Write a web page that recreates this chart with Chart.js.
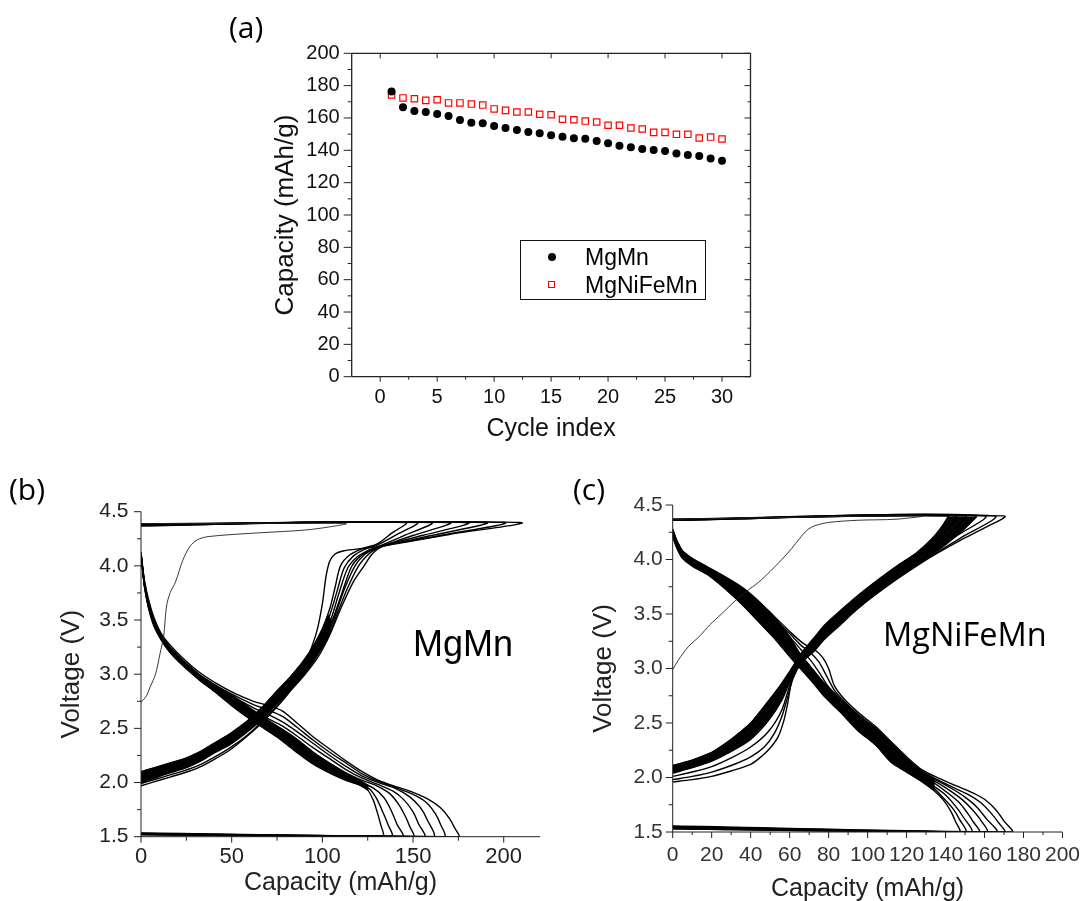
<!DOCTYPE html>
<html><head><meta charset="utf-8">
<script src="https://cdn.jsdelivr.net/npm/chart.js@4.4.1/dist/chart.umd.min.js"></script>
<style>
body{margin:0;background:#fff}
#wrap{position:relative;width:1091px;height:901px;overflow:hidden;background:#fff}
.box{position:absolute}
.lbl{position:absolute;font-family:'Open Sans',sans-serif;font-size:30px;line-height:1;color:#000;white-space:nowrap}
.tag{position:absolute;line-height:1;color:#000;white-space:nowrap}
#legA{position:absolute;left:520px;top:240px;width:184px;height:58px;border:1px solid #111;font-family:'Liberation Sans',Arial,sans-serif;font-size:23px}
#legA .row{position:absolute;left:0;height:26px;line-height:26px}
#legA .dot{position:absolute;left:27px;top:9px;width:8px;height:8px;border-radius:50%;background:#000}
#legA .sq{position:absolute;left:27px;top:9px;width:5px;height:5px;border:1.3px solid #ff0000}
#legA .txt{position:absolute;left:64px;top:0}
</style></head>
<body>
<div id="wrap">
  <div class="box" style="left:230px;top:20px;width:540px;height:440px"><canvas id="ca" width="540" height="440"></canvas></div>
  <div class="box" style="left:0px;top:470px;width:560px;height:440px"><canvas id="cb" width="560" height="440"></canvas></div>
  <div class="box" style="left:560px;top:470px;width:531px;height:440px"><canvas id="cc" width="531" height="440"></canvas></div>
  <div class="lbl" style="left:229px;top:12px">(a)</div>
  <div class="lbl" style="left:9px;top:474px">(b)</div>
  <div class="lbl" style="left:573px;top:474px">(c)</div>
  <div class="tag" style="left:413px;top:626px;font-family:'Liberation Sans',Arial,sans-serif;font-size:36px">MgMn</div>
  <div class="tag" style="left:883px;top:618px;font-family:'Open Sans',sans-serif;font-size:32.5px">MgNiFeMn</div>
  <div id="legA">
    <div class="row" style="top:3px;width:184px"><div class="dot"></div><div class="txt">MgMn</div></div>
    <div class="row" style="top:31px;width:184px"><div class="sq"></div><div class="txt">MgNiFeMn</div></div>
  </div>
</div>
<script>
// ---------- (a) cycling data ----------
const cycles = [1,2,3,4,5,6,7,8,9,10,11,12,13,14,15,16,17,18,19,20,21,22,23,24,25,26,27,28,29,30];
const mgmnCap = [176.3,166.6,164.3,163.7,162.5,161.2,158.7,157.1,156.7,155.0,153.8,152.6,151.3,150.5,149.3,148.4,147.4,147.2,145.8,144.3,142.9,141.9,140.8,140.2,139.6,138.1,137.1,136.5,135.0,133.6];
const nfmCap = [174.2,172.4,171.9,170.9,171.3,169.3,169.3,168.6,168.0,165.6,164.7,163.7,163.7,162.3,162.0,159.2,158.9,158.1,157.5,155.5,155.5,153.8,153.2,151.1,151.1,149.9,149.9,147.6,148.2,147.0];

// ---------- tick labels ----------
const cycleTicks = [0,5,10,15,20,25,30];
const cycleMinor = [2.5,7.5,12.5,17.5,22.5,27.5];
const capTicksA = [0,20,40,60,80,100,120,140,160,180,200];
const capMinorA = [10,30,50,70,90,110,130,150,170,190];
const voltTicks = [1.5,2.0,2.5,3.0,3.5,4.0,4.5];
const voltMinor = [1.75,2.25,2.75,3.25,3.75,4.25];
const capTicksB = [0,50,100,150,200];
const capMinorB = [25,75,125,175];
const capTicksC = [0,20,40,60,80,100,120,140,160,180,200];
const capMinorC = [10,30,50,70,90,110,130,150,170,190];

// ---------- (b) MgMn voltage profiles [capacity, voltage] ----------
const mgmnFirstCharge = [[0,2.74],[3,2.80],[5,2.88],[8,3.00],[10.5,3.19],[12.5,3.35],[14,3.62],[16,3.75],[19,3.85],[23,4.05],[27,4.18],[31,4.24],[37,4.27],[60,4.30],[90,4.33],[104,4.36],[113,4.39],[0,4.39]];
const mgmnCharge = [
 [[0,1.97],[8,2.01],[16,2.05],[24,2.09],[32,2.14],[40,2.21],[49,2.30],[58,2.42],[66,2.54],[74,2.68],[82,2.84],[88,3.00],[93,3.20],[97,3.40],[100,3.65],[102,3.90],[104,4.04],[107,4.11],[112,4.14],[122,4.16],[132,4.18],[170,4.29],[209,4.40],[0,4.39]],
 [[0,1.99],[8,2.03],[16,2.07],[24,2.11],[32,2.16],[40,2.23],[49,2.32],[58,2.43],[66,2.55],[74,2.69],[82,2.84],[90,2.99],[98,3.17],[104,3.36],[110,3.60],[117,3.85],[123,4.00],[127,4.10],[131,4.16],[135,4.19],[165,4.28],[200,4.40],[0,4.385]],
 [[0,2.01],[8,2.05],[16,2.09],[24,2.13],[32,2.19],[40,2.27],[49,2.35],[58,2.46],[66,2.57],[74,2.71],[82,2.85],[90,3.00],[97,3.17],[103,3.34],[108,3.55],[114,3.80],[120,4.00],[125,4.10],[129,4.15],[133,4.18],[160,4.28],[190,4.40],[0,4.38]],
 [[0,2.03],[8,2.07],[16,2.11],[24,2.15],[32,2.21],[40,2.29],[49,2.37],[58,2.48],[66,2.59],[74,2.72],[82,2.86],[90,3.01],[97,3.18],[102,3.33],[107,3.54],[112,3.78],[118,4.00],[123,4.10],[128,4.15],[132,4.18],[155,4.28],[180,4.40],[0,4.38]],
 [[0,2.04],[8,2.09],[16,2.13],[24,2.17],[32,2.23],[40,2.30],[49,2.39],[58,2.50],[66,2.61],[74,2.74],[82,2.88],[89,3.02],[96,3.18],[101,3.32],[106,3.52],[111,3.76],[116,3.99],[121,4.09],[127,4.15],[132,4.18],[150,4.28],[170,4.40],[0,4.375]],
 [[0,2.06],[8,2.10],[16,2.14],[24,2.18],[32,2.24],[40,2.32],[49,2.41],[58,2.52],[66,2.63],[74,2.77],[82,2.91],[89,3.05],[95,3.19],[100,3.33],[105,3.52],[109,3.74],[114,3.98],[119,4.08],[125,4.14],[131,4.18],[145,4.28],[160,4.40],[0,4.375]],
 [[0,2.08],[8,2.12],[16,2.16],[24,2.20],[32,2.26],[40,2.34],[49,2.43],[58,2.54],[66,2.65],[74,2.80],[82,2.94],[89,3.08],[95,3.22],[100,3.37],[104,3.54],[108,3.76],[112,3.98],[117,4.09],[123,4.15],[130,4.19],[140,4.28],[152,4.40],[0,4.37]],
 [[0,2.10],[8,2.14],[16,2.18],[24,2.22],[32,2.28],[40,2.36],[49,2.45],[58,2.56],[66,2.68],[74,2.83],[82,2.97],[89,3.11],[95,3.26],[100,3.42],[104,3.60],[107,3.80],[110,4.00],[115,4.10],[122,4.16],[130,4.20],[138,4.30],[146,4.40],[0,4.37]]
];
const mgmnDischarge = [
 [[0,4.13],[1,3.98],[2,3.86],[4,3.70],[7,3.53],[11,3.38],[16,3.27],[23,3.15],[32,3.02],[42,2.91],[52,2.82],[62,2.75],[70,2.71],[78,2.66],[86,2.55],[95,2.42],[104,2.31],[113,2.20],[122,2.10],[131,2.02],[141,1.96],[150,1.91],[158,1.85],[165,1.77],[170,1.67],[173,1.58],[175,1.50],[0,1.535]],
 [[0,4.12],[1,3.97],[2,3.84],[4,3.68],[7,3.51],[11,3.37],[16,3.25],[23,3.13],[32,3.00],[42,2.89],[52,2.80],[62,2.72],[70,2.67],[78,2.61],[86,2.51],[95,2.39],[104,2.28],[113,2.18],[122,2.08],[131,2.01],[141,1.95],[150,1.89],[157,1.82],[162,1.72],[165,1.62],[167,1.50],[0,1.53]],
 [[0,4.12],[1,3.96],[2,3.83],[4,3.67],[7,3.50],[11,3.36],[16,3.24],[23,3.12],[32,2.99],[42,2.87],[52,2.78],[62,2.69],[70,2.63],[78,2.56],[86,2.47],[95,2.36],[104,2.25],[113,2.15],[122,2.06],[131,2.00],[141,1.94],[148,1.87],[154,1.77],[158,1.65],[161,1.50],[0,1.53]],
 [[0,4.11],[1,3.96],[2,3.82],[4,3.66],[7,3.49],[11,3.35],[16,3.23],[23,3.11],[32,2.98],[42,2.86],[52,2.76],[62,2.66],[70,2.59],[78,2.52],[86,2.43],[95,2.32],[104,2.22],[113,2.12],[122,2.04],[131,1.98],[139,1.92],[145,1.84],[150,1.73],[153,1.62],[156,1.50],[0,1.525]],
 [[0,4.11],[1,3.95],[2,3.81],[4,3.65],[7,3.48],[11,3.34],[16,3.22],[23,3.10],[32,2.97],[42,2.85],[52,2.75],[62,2.64],[70,2.57],[78,2.49],[86,2.40],[95,2.28],[104,2.18],[113,2.09],[122,2.02],[130,1.97],[137,1.90],[142,1.80],[146,1.68],[148,1.60],[150,1.50],[0,1.525]],
 [[0,4.10],[1,3.95],[2,3.81],[4,3.64],[7,3.47],[11,3.33],[16,3.21],[23,3.09],[32,2.96],[42,2.84],[52,2.73],[62,2.62],[70,2.54],[78,2.46],[86,2.37],[95,2.25],[104,2.15],[113,2.06],[121,2.00],[128,1.95],[134,1.86],[138,1.74],[141,1.62],[144,1.50],[0,1.52]],
 [[0,4.10],[1,3.94],[2,3.80],[4,3.63],[7,3.46],[11,3.33],[16,3.21],[23,3.09],[32,2.95],[42,2.83],[52,2.72],[62,2.60],[70,2.52],[78,2.44],[86,2.34],[95,2.22],[104,2.12],[113,2.04],[120,1.99],[126,1.94],[130,1.85],[133,1.74],[136,1.62],[138,1.50],[0,1.52]],
 [[0,4.10],[1,3.94],[2,3.80],[4,3.62],[7,3.45],[11,3.32],[16,3.20],[23,3.08],[32,2.95],[42,2.82],[50,2.71],[58,2.61],[66,2.52],[75,2.42],[85,2.29],[95,2.17],[105,2.08],[113,2.02],[120,1.98],[125,1.93],[128,1.84],[130,1.74],[132,1.62],[133,1.50],[0,1.52]]
];
// outlines of the regions where the (b) curves overlap into solid black
const mgmnChargeCore = [[0,2.10],[8,2.14],[16,2.18],[24,2.22],[32,2.28],[40,2.36],[49,2.45],[58,2.56],[66,2.68],[74,2.83],[82,2.97],[89,3.11],[95,3.26],[100,3.42],[103,3.55],[105,3.50],[103,3.34],[97,3.17],[90,3.00],[82,2.85],[74,2.71],[66,2.57],[58,2.46],[49,2.35],[40,2.27],[32,2.19],[24,2.13],[16,2.09],[8,2.04],[0,1.99]];
const mgmnDischargeCore = [[0,4.12],[1,3.97],[2,3.84],[4,3.68],[7,3.51],[11,3.37],[16,3.25],[23,3.13],[32,3.00],[42,2.89],[52,2.79],[62,2.67],[70,2.58],[78,2.49],[86,2.40],[95,2.28],[104,2.18],[113,2.09],[121,2.02],[125,1.98],[125,1.93],[120,1.98],[113,2.02],[105,2.08],[95,2.17],[85,2.29],[75,2.42],[66,2.52],[58,2.61],[50,2.71],[42,2.82],[32,2.95],[23,3.08],[16,3.20],[11,3.32],[7,3.45],[4,3.62],[2,3.80],[1,3.94],[0,4.10]];

// ---------- (c) MgNiFeMn voltage profiles [capacity, voltage] ----------
const nfmFirstCharge = [[0,2.99],[3,3.08],[8,3.20],[14,3.30],[19,3.40],[25,3.50],[32,3.62],[38,3.71],[44,3.79],[50,3.89],[56,4.00],[61,4.10],[65,4.19],[69,4.27],[73,4.31],[80,4.34],[95,4.36],[115,4.37],[128,4.40],[0,4.37]];
const nfmCharge = [
 [[0,1.96],[10,1.98],[20,2.01],[30,2.06],[40,2.12],[46,2.20],[50,2.27],[54,2.37],[57,2.52],[59,2.68],[60.5,2.84],[62,2.96],[66,3.06],[72,3.15],[78,3.27],[86,3.40],[95,3.55],[105,3.69],[115,3.82],[125,3.94],[136,4.06],[148,4.18],[160,4.29],[170,4.40],[0,4.37]],
 [[0,1.98],[10,2.01],[20,2.05],[30,2.11],[40,2.19],[47,2.28],[52,2.40],[56,2.56],[59,2.74],[62,2.92],[66,3.05],[72,3.16],[78,3.29],[86,3.42],[95,3.56],[105,3.70],[115,3.83],[125,3.95],[136,4.07],[148,4.20],[165,4.40],[0,4.37]],
 [[0,2.01],[10,2.05],[20,2.10],[30,2.18],[40,2.28],[49,2.42],[56,2.62],[61,2.90],[66,3.06],[72,3.18],[78,3.31],[86,3.44],[95,3.58],[105,3.72],[115,3.85],[125,3.97],[135,4.09],[146,4.22],[160,4.40],[0,4.365]],
 [[0,2.04],[10,2.09],[20,2.15],[30,2.24],[40,2.35],[49,2.52],[56,2.71],[61,2.92],[66,3.08],[72,3.21],[78,3.34],[86,3.47],[95,3.61],[105,3.75],[115,3.88],[125,4.00],[135,4.12],[145,4.25],[155,4.40],[0,4.365]],
 [[0,2.06],[10,2.11],[20,2.17],[30,2.28],[40,2.41],[49,2.59],[55,2.76],[61,2.95],[66,3.10],[72,3.23],[78,3.36],[86,3.49],[95,3.63],[105,3.77],[115,3.90],[125,4.02],[135,4.14],[143,4.26],[150,4.40],[0,4.36]],
 [[0,2.08],[10,2.13],[20,2.19],[30,2.31],[40,2.46],[49,2.65],[55,2.80],[61,2.98],[66,3.12],[72,3.25],[78,3.38],[86,3.51],[95,3.65],[105,3.79],[115,3.92],[125,4.04],[134,4.16],[141,4.28],[145,4.40],[0,4.36]],
 [[0,2.11],[10,2.16],[20,2.23],[30,2.35],[40,2.50],[49,2.70],[55,2.84],[61,3.00],[66,3.14],[72,3.27],[78,3.40],[86,3.53],[95,3.67],[105,3.81],[115,3.94],[125,4.06],[133,4.19],[138,4.30],[141,4.40],[0,4.36]]
];
const nfmDischarge = [
 [[0,4.28],[2,4.18],[5,4.08],[10,4.01],[18,3.93],[27,3.84],[36,3.74],[44,3.62],[52,3.48],[60,3.34],[67,3.23],[73,3.17],[77,3.10],[80,3.00],[83,2.84],[88,2.72],[95,2.60],[104,2.47],[112,2.33],[120,2.19],[128,2.07],[137,1.99],[146,1.92],[154,1.86],[160,1.80],[166,1.70],[170,1.60],[174,1.50],[0,1.555]],
 [[0,4.27],[2,4.17],[5,4.07],[10,4.00],[18,3.92],[27,3.83],[36,3.73],[44,3.60],[52,3.46],[60,3.32],[66,3.21],[71,3.14],[75,3.06],[79,2.93],[83,2.80],[88,2.70],[95,2.58],[104,2.45],[112,2.31],[120,2.17],[128,2.05],[137,1.97],[145,1.90],[152,1.84],[158,1.77],[163,1.68],[167,1.59],[170,1.50],[0,1.55]],
 [[0,4.26],[2,4.16],[5,4.06],[10,3.99],[18,3.91],[27,3.81],[36,3.71],[44,3.58],[52,3.44],[60,3.29],[66,3.17],[71,3.07],[76,2.94],[80,2.83],[86,2.72],[95,2.56],[104,2.43],[112,2.29],[120,2.15],[128,2.04],[137,1.96],[144,1.89],[150,1.82],[156,1.73],[161,1.62],[166,1.50],[0,1.545]],
 [[0,4.25],[2,4.15],[5,4.05],[10,3.98],[18,3.90],[27,3.80],[36,3.69],[44,3.56],[52,3.41],[60,3.25],[66,3.12],[72,2.99],[78,2.86],[86,2.71],[95,2.54],[104,2.41],[112,2.26],[120,2.13],[128,2.03],[136,1.95],[143,1.87],[149,1.79],[154,1.70],[158,1.61],[161,1.50],[0,1.54]],
 [[0,4.24],[2,4.14],[5,4.04],[10,3.97],[18,3.89],[27,3.79],[36,3.67],[44,3.54],[52,3.39],[60,3.22],[66,3.09],[72,2.96],[78,2.83],[86,2.68],[95,2.52],[104,2.38],[112,2.23],[120,2.11],[128,2.01],[135,1.94],[141,1.86],[147,1.77],[151,1.68],[154,1.60],[157,1.50],[0,1.54]],
 [[0,4.23],[2,4.13],[5,4.03],[10,3.96],[18,3.88],[27,3.77],[36,3.65],[44,3.51],[52,3.36],[60,3.19],[66,3.06],[72,2.93],[78,2.80],[86,2.65],[95,2.49],[104,2.35],[112,2.20],[120,2.09],[128,1.99],[134,1.92],[140,1.84],[145,1.74],[149,1.64],[153,1.50],[0,1.535]],
 [[0,4.22],[2,4.12],[5,4.02],[10,3.95],[18,3.87],[27,3.75],[36,3.62],[44,3.48],[52,3.33],[60,3.16],[66,3.03],[72,2.90],[78,2.77],[86,2.63],[95,2.46],[104,2.33],[112,2.17],[120,2.07],[128,1.97],[134,1.90],[139,1.81],[144,1.71],[147,1.62],[150,1.50],[0,1.53]],
 [[0,4.21],[2,4.11],[5,4.01],[10,3.94],[18,3.86],[27,3.73],[36,3.58],[44,3.43],[52,3.28],[60,3.11],[66,2.99],[72,2.87],[78,2.74],[86,2.60],[95,2.43],[104,2.30],[112,2.14],[120,2.05],[128,1.96],[134,1.88],[139,1.79],[143,1.68],[145,1.60],[147,1.50],[0,1.53]]
];
// outlines of the regions where the (c) curves overlap into solid black
const nfmChargeCore = [[0,2.11],[10,2.16],[20,2.23],[30,2.35],[40,2.50],[49,2.70],[55,2.84],[61,3.00],[66,3.14],[72,3.27],[78,3.40],[86,3.53],[95,3.67],[105,3.81],[115,3.94],[125,4.06],[133,4.19],[138,4.30],[141,4.39],[156,4.39],[150,4.28],[140,4.13],[130,4.00],[120,3.88],[110,3.76],[100,3.62],[90,3.47],[80,3.31],[72,3.16],[66,3.06],[62,2.95],[61,2.92],[56,2.71],[49,2.52],[40,2.35],[30,2.24],[20,2.15],[10,2.09],[0,2.04]];
const nfmDischargeCore = [[0,4.28],[2,4.18],[5,4.08],[10,4.01],[18,3.93],[27,3.84],[36,3.74],[44,3.62],[52,3.48],[60,3.30],[66,3.12],[72,2.99],[78,2.86],[86,2.71],[95,2.58],[104,2.46],[112,2.32],[120,2.18],[128,2.06],[134,2.00],[134,1.88],[128,1.96],[120,2.05],[112,2.14],[104,2.30],[95,2.43],[86,2.60],[78,2.74],[72,2.87],[66,2.99],[60,3.11],[52,3.28],[44,3.43],[36,3.58],[27,3.73],[18,3.86],[10,3.94],[5,4.01],[2,4.11],[0,4.21]];

// ---------- helpers ----------
Chart.defaults.font.family = "'Liberation Sans', Arial, sans-serif";
Chart.defaults.color = '#000';
Chart.defaults.animation = false;

const axisDeco = {
  id: 'axisDeco',
  afterDatasetsDraw(chart, args, o) {
    const {ctx, chartArea: a, scales} = chart;
    const sx = scales.x, sy = scales.y;
    ctx.save();
    ctx.strokeStyle = o.color;
    ctx.lineWidth = o.frameWidth;
    ctx.beginPath();
    o.lines.forEach(s => {
      if (s === 'left') { ctx.moveTo(a.left, a.top); ctx.lineTo(a.left, a.bottom); }
      if (s === 'right') { ctx.moveTo(a.right, a.top); ctx.lineTo(a.right, a.bottom); }
      if (s === 'top') { ctx.moveTo(a.left, a.top); ctx.lineTo(a.right, a.top); }
      if (s === 'bottom') { ctx.moveTo(a.left, a.bottom); ctx.lineTo(a.right, a.bottom); }
    });
    ctx.stroke();
    ctx.lineWidth = o.tickWidth;
    ctx.beginPath();
    o.marks.forEach(m => {
      m.values.forEach(v => {
        if (m.side === 'bottom') { const p = sx.getPixelForValue(v); ctx.moveTo(p, a.bottom); ctx.lineTo(p, a.bottom + m.len); }
        if (m.side === 'top') { const p = sx.getPixelForValue(v); ctx.moveTo(p, a.top); ctx.lineTo(p, a.top + m.len); }
        if (m.side === 'left') { const p = sy.getPixelForValue(v); ctx.moveTo(a.left, p); ctx.lineTo(a.left - m.len, p); }
        if (m.side === 'right') { const p = sy.getPixelForValue(v); ctx.moveTo(a.right, p); ctx.lineTo(a.right - m.len, p); }
      });
    });
    ctx.stroke();
    ctx.restore();
  }
};

const toPts = arr => arr.map(p => ({x: p[0], y: p[1]}));
const fixTicks = list => (s => { s.ticks = list.map(v => ({value: v})); });
const fmt1 = v => Number(v).toFixed(1);

function curveSet(first, charge, discharge, cores, w) {
  const ds = [];
  ds.push({data: toPts(first), borderWidth: 0.9, borderColor: '#222', tension: 0.3, fill: false});
  charge.forEach(c => ds.push({data: toPts(c), borderWidth: w, borderColor: '#000', tension: 0.3, fill: false}));
  discharge.forEach(c => ds.push({data: toPts(c), borderWidth: w, borderColor: '#000', tension: 0.3, fill: false}));
  cores.forEach(c => ds.push({data: toPts(c), borderWidth: 0.8, borderColor: '#000', backgroundColor: '#050505', tension: 0, fill: 'shape'}));
  return ds.map(d => Object.assign(d, {showLine: true, pointRadius: 0}));
}

// ---------- (a) ----------
new Chart(document.getElementById('ca'), {
  type: 'scatter',
  data: {
    datasets: [
      {label: 'MgMn', data: cycles.map((c, i) => ({x: c, y: mgmnCap[i]})), pointStyle: 'circle', pointRadius: 4, backgroundColor: '#000', borderColor: '#000', borderWidth: 0},
      {label: 'MgNiFeMn', data: cycles.map((c, i) => ({x: c, y: nfmCap[i]})), pointStyle: 'rect', pointRadius: 4.5, backgroundColor: 'rgba(255,255,255,0)', borderColor: '#ff0000', borderWidth: 1.2}
    ]
  },
  options: {
    responsive: false,
    layout: {padding: {left: 0, top: 33.3, right: 19.5, bottom: 0}},
    plugins: {
      legend: {display: false}, tooltip: {enabled: false},
      axisDeco: {color: '#222', frameWidth: 1.3, tickWidth: 1, lines: ['left', 'bottom', 'top', 'right'],
        marks: [
          {side: 'bottom', values: cycleTicks, len: 5}, {side: 'bottom', values: cycleMinor, len: 3},
          {side: 'top', values: cycleTicks, len: 5},
          {side: 'left', values: capTicksA, len: 8}, {side: 'left', values: capMinorA, len: 4},
          {side: 'right', values: capTicksA, len: 6}, {side: 'right', values: capMinorA, len: 3}
        ]}
    },
    scales: {
      x: {type: 'linear', min: -2.5, max: 32.5, afterBuildTicks: fixTicks(cycleTicks),
        afterFit: s => { s.height = 83.3; },
        grid: {display: false, drawTicks: false}, border: {display: false},
        ticks: {padding: 9, font: {size: 20}, color: '#111', maxRotation: 0, autoSkip: false},
        title: {display: true, text: 'Cycle index', font: {size: 25}, color: '#111', padding: {top: 0, bottom: 16}}},
      y: {type: 'linear', min: 0, max: 200, afterBuildTicks: fixTicks(capTicksA),
        afterFit: s => { s.width = 121.7; },
        grid: {display: false, drawTicks: false}, border: {display: false},
        ticks: {padding: 12, font: {size: 20}, color: '#111', autoSkip: false},
        title: {display: true, text: 'Capacity (mAh/g)', font: {size: 26}, color: '#111', padding: {top: 40, bottom: 0}}}
    }
  },
  plugins: [axisDeco]
});

// ---------- (b) ----------
new Chart(document.getElementById('cb'), {
  type: 'scatter',
  data: {datasets: curveSet(mgmnFirstCharge, mgmnCharge, mgmnDischarge, [mgmnChargeCore, mgmnDischargeCore], 1.4)},
  options: {
    responsive: false,
    layout: {padding: {left: 0, top: 41.7, right: 20, bottom: 0}},
    plugins: {
      legend: {display: false}, tooltip: {enabled: false},
      axisDeco: {color: '#222', frameWidth: 1, tickWidth: 1, lines: ['left', 'bottom'],
        marks: [
          {side: 'bottom', values: capTicksB, len: 6}, {side: 'bottom', values: capMinorB, len: 4},
          {side: 'left', values: voltTicks, len: 7}, {side: 'left', values: voltMinor, len: 4}
        ]}
    },
    scales: {
      x: {type: 'linear', min: 0, max: 220, afterBuildTicks: fixTicks(capTicksB),
        afterFit: s => { s.height = 73.3; },
        grid: {display: false, drawTicks: false}, border: {display: false},
        ticks: {padding: 7, font: {size: 22}, color: '#222', maxRotation: 0, autoSkip: false},
        title: {display: true, text: 'Capacity (mAh/g)', font: {size: 25}, color: '#222', padding: {top: 0, bottom: 12}}},
      y: {type: 'linear', min: 1.5, max: 4.5, afterBuildTicks: fixTicks(voltTicks),
        afterFit: s => { s.width = 141; },
        grid: {display: false, drawTicks: false}, border: {display: false},
        ticks: {padding: 12.5, font: {size: 21}, color: '#222', autoSkip: false, callback: fmt1},
        title: {display: true, text: 'Voltage (V)', font: {size: 26}, color: '#222', padding: {top: 56, bottom: 0}}}
    }
  },
  plugins: [axisDeco]
});

// ---------- (c) ----------
new Chart(document.getElementById('cc'), {
  type: 'scatter',
  data: {datasets: curveSet(nfmFirstCharge, nfmCharge, nfmDischarge, [nfmChargeCore, nfmDischargeCore], 1.4)},
  options: {
    responsive: false,
    layout: {padding: {left: 0, top: 35, right: 24.3, bottom: 0}},
    plugins: {
      legend: {display: false}, tooltip: {enabled: false},
      axisDeco: {color: '#222', frameWidth: 1, tickWidth: 1, lines: ['left', 'bottom'],
        marks: [
          {side: 'bottom', values: capTicksC, len: 6}, {side: 'bottom', values: capMinorC, len: 3},
          {side: 'left', values: voltTicks, len: 7}, {side: 'left', values: voltMinor, len: 4}
        ]}
    },
    scales: {
      x: {type: 'linear', min: 0, max: 200, afterBuildTicks: fixTicks(capTicksC),
        afterFit: s => { s.height = 78; },
        grid: {display: false, drawTicks: false}, border: {display: false},
        ticks: {padding: 11, font: {size: 21}, color: '#333', maxRotation: 0, autoSkip: false},
        title: {display: true, text: 'Capacity (mAh/g)', font: {size: 25}, color: '#222', padding: {top: 0, bottom: 6}}},
      y: {type: 'linear', min: 1.5, max: 4.5, afterBuildTicks: fixTicks(voltTicks),
        afterFit: s => { s.width = 112.7; },
        grid: {display: false, drawTicks: false}, border: {display: false},
        ticks: {padding: 10, font: {size: 21}, color: '#333', autoSkip: false, callback: fmt1},
        title: {display: true, text: 'Voltage (V)', font: {size: 26}, color: '#222', padding: {top: 28, bottom: 0}}}
    }
  },
  plugins: [axisDeco]
});
</script>
</body></html>
